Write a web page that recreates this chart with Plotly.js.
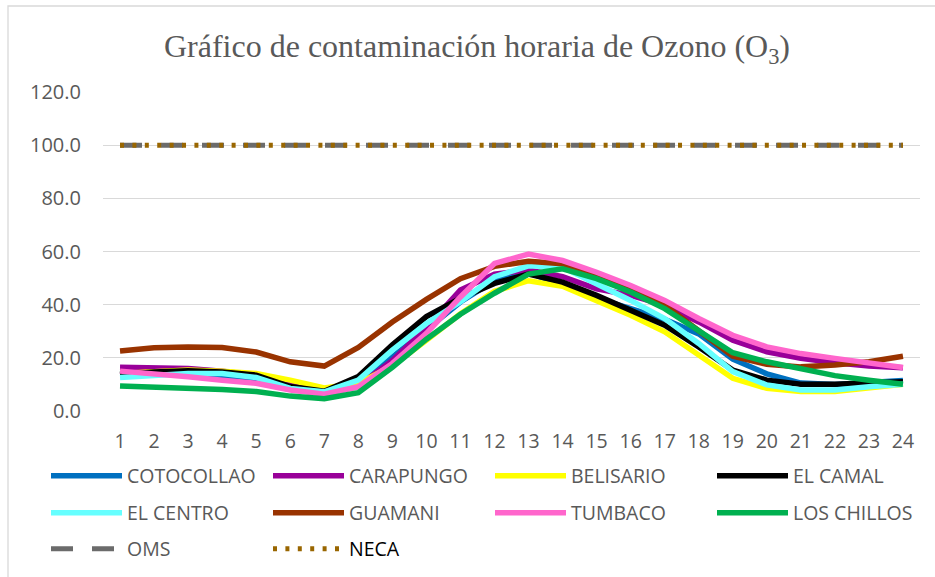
<!DOCTYPE html>
<html>
<head>
<meta charset="utf-8">
<script src="https://cdn.plot.ly/plotly-3.0.1.min.js"></script>
<style>
  html, body { margin: 0; padding: 0; background: #ffffff; }
  #chart { width: 935px; height: 577px; }
</style>
</head>
<body>
<div id="chart"></div>
<script>
// ---- Data ----
const hours = [1,2,3,4,5,6,7,8,9,10,11,12,13,14,15,16,17,18,19,20,21,22,23,24];
const yTickVals = [0, 20, 40, 60, 80, 100, 120];

const cotocollao = [14.0,15.0,14.5,13.0,11.5,8.5,6.5,10.0,20.5,31.0,41.0,49.0,52.0,47.5,42.5,38.5,34.5,29.0,19.5,14.0,10.5,10.0,10.5,11.5];
const carapungo  = [16.5,16.5,16.0,15.0,13.5,10.0,6.5,9.5,19.0,31.5,45.5,51.5,53.0,50.5,46.0,43.5,39.8,33.5,26.6,22.3,19.8,18.1,16.9,16.3];
const belisario  = [14.1,15.0,15.4,15.0,14.1,11.6,8.7,10.4,17.0,26.6,36.6,45.0,49.0,46.9,41.6,36.0,29.8,21.0,12.3,8.5,7.3,7.3,8.5,10.1];
const elCamal    = [13.5,14.7,15.1,14.7,13.5,9.2,7.4,13.0,24.9,35.5,42.4,48.0,51.5,48.5,43.5,37.9,32.3,24.1,15.4,11.6,10.1,10.1,10.6,11.0];
const elCentro   = [12.6,13.5,14.1,14.1,12.6,8.5,7.2,11.6,22.9,32.9,41.1,50.5,54.6,54.1,47.9,41.6,34.8,25.4,14.8,9.8,7.9,7.9,9.1,10.1];
const guamani    = [22.6,23.8,24.1,23.9,22.2,18.5,16.9,23.9,33.5,42.0,49.8,54.4,56.3,55.4,51.0,46.0,39.8,30.4,20.6,17.6,16.6,17.3,18.5,20.6];
const tumbaco    = [15.0,14.1,12.9,11.6,10.4,7.9,6.3,9.1,17.9,29.2,42.9,55.5,59.0,56.6,52.2,47.2,41.6,34.8,28.5,24.1,21.6,19.8,17.9,16.4];
const losChillos = [9.4,9.0,9.0,8.1,7.3,5.6,4.6,6.9,16.4,27.0,36.4,44.3,51.5,53.5,49.8,44.8,38.5,30.4,21.9,18.5,16.0,13.3,11.6,10.1];
const oms        = [100,100,100,100,100,100,100,100,100,100,100,100,100,100,100,100,100,100,100,100,100,100,100,100];
const neca       = [100,100,100,100,100,100,100,100,100,100,100,100,100,100,100,100,100,100,100,100,100,100,100,100];

const seriesNames = ['COTOCOLLAO','CARAPUNGO','BELISARIO','EL CAMAL','EL CENTRO','GUAMANI','TUMBACO','LOS CHILLOS','OMS','NECA'];

// ---- Styling ----
const colors = ['#0070C0','#990099','#FFFF00','#000000','#66FFFF','#993300','#FF66CC','#00B050','#6B6B6B','#996600'];
const values = [cotocollao, carapungo, belisario, elCamal, elCentro, guamani, tumbaco, losChillos, oms, neca];
const dashes = ['solid','solid','solid','solid','solid','solid','solid','solid','22px,19px','4px,8.4px'];
const widths = [5.5,5.5,5.5,5.5,5.5,5.5,5.5,5.5,5,5];

// legend positions (container px): column start x, row center y
const colX = [51, 273, 495, 717];
const rowY = [476, 513, 549];

const W = 935, H = 577;
const traces = [];
const layout = {
  width: W, height: H, autosize: false,
  paper_bgcolor: '#ffffff', plot_bgcolor: '#ffffff',
  margin: {l: 103, r: 15, t: 92, b: 166, pad: 0},
  title: {
    text: 'Gráfico de contaminación horaria de Ozono (O<sub>3</sub>)',
    font: {family: 'Liberation Serif, Times New Roman, serif', size: 32, color: '#595959'},
    x: 477 / W, xanchor: 'center', xref: 'container',
    y: 1 - 46 / H, yanchor: 'middle', yref: 'container'
  },
  xaxis: {
    range: [0.5, 24.5], tickmode: 'array', tickvals: hours, ticktext: hours.map(String),
    showgrid: false, zeroline: false, showline: false, ticks: '',
    tickfont: {family: 'Open Sans, sans-serif', size: 19.5, color: '#595959'},
    ticklabelstandoff: 16, fixedrange: true
  },
  yaxis: {
    range: [0, 120], tickmode: 'array', tickvals: yTickVals, ticktext: yTickVals.map(v => v.toFixed(1)),
    showgrid: true, gridcolor: '#D9D9D9', gridwidth: 1.3, zeroline: false, showline: false, ticks: '',
    tickfont: {family: 'Open Sans, sans-serif', size: 20, color: '#595959'},
    ticklabelstandoff: 21, fixedrange: true
  },
  showlegend: true,
  shapes: [{
    type: 'rect', xref: 'paper', yref: 'paper', layer: 'below',
    x0: (8 - 103) / 817, x1: (960 - 103) / 817,
    y0: (411 - 600) / 319, y1: (411 - 6) / 319,
    line: {color: '#D9D9D9', width: 1.3}, fillcolor: 'rgba(0,0,0,0)'
  }]
};

for (let i = 0; i < seriesNames.length; i++) {
  const lid = i === 0 ? 'legend' : 'legend' + (i + 1);
  const col = i < 8 ? i % 4 : i - 8;
  const row = i < 8 ? Math.floor(i / 4) : 2;
  const name = seriesNames[i] === 'NECA' ? '<span style="color:#000000">NECA</span>' : seriesNames[i];
  traces.push({
    x: hours, y: values[i], type: 'scatter', mode: 'lines', name: name,
    line: {color: colors[i], width: widths[i], dash: dashes[i], shape: 'linear'},
    hoverinfo: 'skip', legend: lid
  });
  layout[lid] = {
    xref: 'container', yref: 'container',
    x: (colX[col] - 5) / W, xanchor: 'left',
    y: 1 - rowY[row] / H, yanchor: 'middle',
    orientation: 'h', bgcolor: 'rgba(0,0,0,0)', borderwidth: 0,
    itemwidth: 71, valign: 'middle',
    font: {family: 'Open Sans, sans-serif', size: 19.5, color: '#595959'}
  };
}
// draw order: OMS and NECA first, then the stations (later on top)
const ordered = [traces[8], traces[9]].concat(traces.slice(0, 8));
Plotly.newPlot('chart', ordered, layout, {staticPlot: true, displayModeBar: false});
</script>
</body>
</html>
